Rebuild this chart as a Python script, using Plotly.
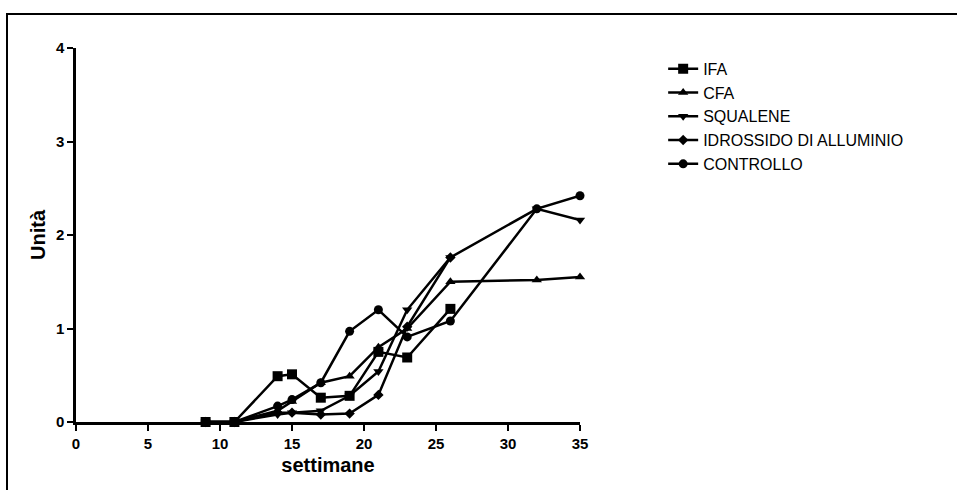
import plotly.graph_objects as go

weeks = [9, 11, 14, 15, 17, 19, 21, 23, 26, 32, 35]
ifa = [0, 0, 0.49, 0.51, 0.26, 0.28, 0.75, 0.69, 1.21, None, None]
cfa = [0, 0, 0.12, 0.22, 0.42, 0.49, 0.80, 1.00, 1.50, 1.52, 1.55]
squalene = [0, 0, 0.08, 0.10, 0.12, 0.28, 0.54, 1.20, 1.76, 2.28, 2.16]
idrossido = [0, 0, 0.10, 0.10, 0.08, 0.09, 0.29, 1.02, 1.76, None, None]
controllo = [0, 0, 0.17, 0.24, 0.42, 0.97, 1.20, 0.91, 1.08, 2.28, 2.42]

series = [
    ("IFA", ifa, "square", 10),
    ("CFA", cfa, "triangle-up", 9),
    ("SQUALENE", squalene, "triangle-down", 9),
    ("IDROSSIDO DI ALLUMINIO", idrossido, "diamond", 8),
    ("CONTROLLO", controllo, "circle", 9),
]

x_ticks = [0, 5, 10, 15, 20, 25, 30, 35]
y_ticks = [0, 1, 2, 3, 4]

FONT = "Liberation Sans, Arial, sans-serif"

fig = go.Figure()
for name, vals, sym, size in series:
    fig.add_trace(go.Scatter(
        x=weeks, y=vals, name=name, mode="lines+markers",
        line=dict(color="black", width=2.5),
        marker=dict(symbol=sym, size=size, color="black"),
        cliponaxis=False, connectgaps=False,
    ))

fig.update_layout(
    width=957, height=490,
    margin=dict(l=76, r=377, t=48, b=68),
    paper_bgcolor="white", plot_bgcolor="white",
    font=dict(family=FONT, color="black"),
    showlegend=True,
    legend=dict(
        x=1.165, y=0.99, xanchor="left", yanchor="top",
        font=dict(size=16, family=FONT, color="black"),
        tracegroupgap=0, itemwidth=30, bgcolor="rgba(0,0,0,0)",
    ),
    xaxis=dict(
        range=[0, 35], tickvals=x_ticks, ticktext=[str(v) for v in x_ticks],
        showgrid=False, zeroline=False, showline=True, linecolor="black", linewidth=2.5,
        ticks="outside", ticklen=6, tickwidth=2, tickcolor="black",
        tickfont=dict(size=15, family=FONT, color="black", weight="bold"),
        title=dict(text="<b>settimane</b>", font=dict(size=20, family=FONT, color="black"), standoff=8),
    ),
    yaxis=dict(
        range=[0, 4], tickvals=y_ticks, ticktext=[str(v) for v in y_ticks],
        showgrid=False, zeroline=False, showline=True, linecolor="black", linewidth=2.5,
        ticks="outside", ticklen=6, tickwidth=2, tickcolor="black",
        tickfont=dict(size=15, family=FONT, color="black", weight="bold"),
        title=dict(text="<b>Unità</b>", font=dict(size=20, family=FONT, color="black"), standoff=5),
    ),
    shapes=[dict(
        type="rect", xref="paper", yref="paper",
        x0=(7 - 76) / 504, x1=2.0, y0=-1.0, y1=(422 - 14) / 374,
        line=dict(color="black", width=2), fillcolor="rgba(0,0,0,0)", layer="below",
    )],
)

fig.write_html("out.html")
